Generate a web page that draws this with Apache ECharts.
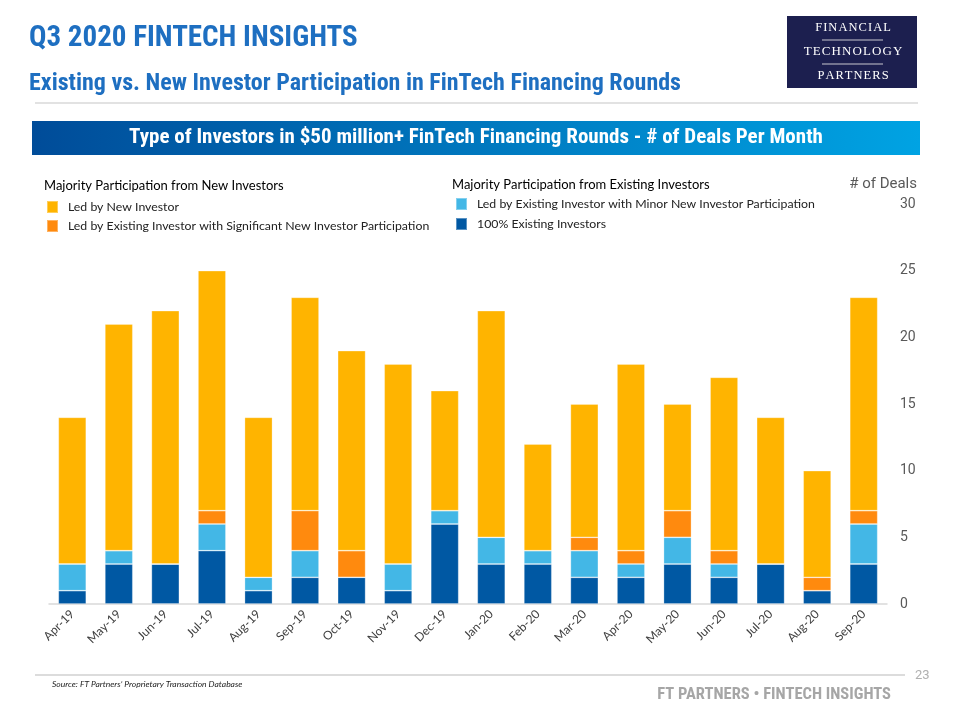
<!DOCTYPE html>
<html>
<head>
<meta charset="utf-8">
<script src="https://cdn.jsdelivr.net/npm/echarts@6/dist/echarts.min.js"></script>
<style>html,body{margin:0;padding:0;background:#fff}#c{width:960px;height:720px}</style>
</head>
<body>
<div id="c"></div>
<script>
const months = ['Apr-19','May-19','Jun-19','Jul-19','Aug-19','Sep-19','Oct-19','Nov-19','Dec-19','Jan-20','Feb-20','Mar-20','Apr-20','May-20','Jun-20','Jul-20','Aug-20','Sep-20'];
const existing100 = [1,3,3,4,1,2,2,1,6,3,3,2,2,3,2,3,1,3];
const existingMinorNew = [2,1,0,2,1,2,0,2,1,2,1,2,1,2,1,0,0,3];
const existingSigNew = [0,0,0,1,0,3,2,0,0,0,0,1,1,2,1,0,1,1];
const ledByNew = [11,17,19,18,12,16,15,15,9,17,8,10,14,8,13,11,8,16];
const yTicks = {min:0, max:30, interval:5};

const names = {
  newInv: 'Led by New Investor',
  sigNew: 'Led by Existing Investor with Significant New Investor Participation',
  minorNew: 'Led by Existing Investor with Minor New Investor Participation',
  all: '100% Existing Investors'
};
const colors = {newInv:'#FFB400', sigNew:'#FF8A0E', minorNew:'#43B7E6', all:'#0058A3'};
const spaced = s => s.split('').join('\u200A');
const cond = '"Liberation Sans Narrow", "Roboto Condensed", Roboto, sans-serif';

const chart = echarts.init(document.getElementById('c'), null, {renderer:'canvas'});
const legendText = {fontFamily:'Lato, "Open Sans", sans-serif', fontSize:12.3, color:'#222', padding:[0,0,0,5]};
function bar(key, data){
  return {name:names[key], type:'bar', stack:'t', data:data, barWidth:'60%',
    itemStyle:{color:colors[key], borderColor:'rgba(255,255,255,0.35)', borderWidth:0.8}};
}
chart.setOption({
  animation:false,
  backgroundColor:'#fff',
  grid:{left:49, right:73, top:204, bottom:116},
  legend:[
    {left:46, top:200, padding:0, orient:'vertical', itemWidth:11, itemHeight:12, itemGap:5, icon:'rect',
     data:[names.newInv, names.sigNew], textStyle:legendText, selectedMode:false},
    {left:455, top:197, padding:0, orient:'vertical', itemWidth:11, itemHeight:12, itemGap:6, icon:'rect',
     data:[names.minorNew, names.all], textStyle:legendText, selectedMode:false}
  ],
  xAxis:{type:'category', data:months,
    axisLine:{lineStyle:{color:'#d9d9d9', width:1.5}}, axisTick:{show:false},
    axisLabel:{rotate:45, fontSize:12, color:'#404040', margin:8, fontFamily:'Lato, sans-serif', interval:0}},
  yAxis:{type:'value', position:'right', min:yTicks.min, max:yTicks.max, interval:yTicks.interval,
    splitLine:{show:false}, axisLine:{show:false}, axisTick:{show:false},
    axisLabel:{fontSize:14, color:'#595959', margin:13, fontFamily:'Roboto, sans-serif'}},
  series:[bar('all', existing100), bar('minorNew', existingMinorNew), bar('sigNew', existingSigNew), bar('newInv', ledByNew)],
  graphic:[
    {type:'text', left:29, top:24, style:{text:'Q3 2020 FINTECH INSIGHTS', fill:'#1E6FC1', font:'bold 29px ' + cond}},
    {type:'text', left:29, top:72, style:{text:'Existing vs. New Investor Participation in FinTech Financing Rounds', fill:'#1E6FC1', font:'bold 24px ' + cond}},
    {type:'rect', shape:{x:787, y:16, width:130, height:72}, style:{fill:'#1C1F4F'}},
    {type:'text', x:853, y:28, style:{text:spaced('FINANCIAL'), fill:'#fff', font:'12.5px "Liberation Serif", "DejaVu Serif", serif', align:'center', verticalAlign:'middle'}},
    {type:'line', shape:{x1:822, y1:40, x2:883, y2:40}, style:{stroke:'#c8c8d0', lineWidth:1.2}},
    {type:'text', x:853, y:52, style:{text:spaced('TECHNOLOGY'), fill:'#fff', font:'13px "Liberation Serif", "DejaVu Serif", serif', align:'center', verticalAlign:'middle'}},
    {type:'line', shape:{x1:822, y1:64, x2:883, y2:64}, style:{stroke:'#c8c8d0', lineWidth:1.2}},
    {type:'text', x:853, y:76, style:{text:spaced('PARTNERS'), fill:'#fff', font:'12.5px "Liberation Serif", "DejaVu Serif", serif', align:'center', verticalAlign:'middle'}},
    {type:'line', shape:{x1:35, y1:103, x2:918, y2:103}, style:{stroke:'#d9d9d9', lineWidth:1.5}},
    {type:'rect', shape:{x:32, y:121, width:888, height:34},
     style:{fill:new echarts.graphic.LinearGradient(0,0,1,0,[{offset:0,color:'#004C99'},{offset:1,color:'#00A3E3'}])}},
    {type:'text', x:476, y:138, style:{text:'Type of Investors in $50 million+ FinTech Financing Rounds - # of Deals Per Month', fill:'#fff', font:'bold 21px ' + cond, align:'center', verticalAlign:'middle'}},
    {type:'text', left:44, top:179, style:{text:'Majority Participation from New Investors', fill:'#000', font:'13px Lato, "Open Sans", sans-serif'}},
    {type:'text', left:452, top:178, style:{text:'Majority Participation from Existing Investors', fill:'#000', font:'13px Lato, "Open Sans", sans-serif'}},
    {type:'text', right:43, top:177, style:{text:'# of Deals', fill:'#595959', font:'15px Roboto, sans-serif', align:'right'}},
    {type:'line', shape:{x1:35, y1:675, x2:905, y2:675}, style:{stroke:'#d0d0d0', lineWidth:1.5}},
    {type:'text', left:915, top:669, style:{text:'23', fill:'#b0b0b0', font:'13px Roboto, sans-serif'}},
    {type:'text', left:52, top:680, style:{text:'Source: FT Partners\u2019 Proprietary Transaction Database', fill:'#222', font:'italic 8.5px Lato, "Open Sans", sans-serif'}},
    {type:'text', right:69, top:686, style:{text:'FT PARTNERS \u2022 FINTECH INSIGHTS', fill:'#A6A6A6', font:'bold 16.5px ' + cond}}
  ]
});
</script>
</body>
</html>
